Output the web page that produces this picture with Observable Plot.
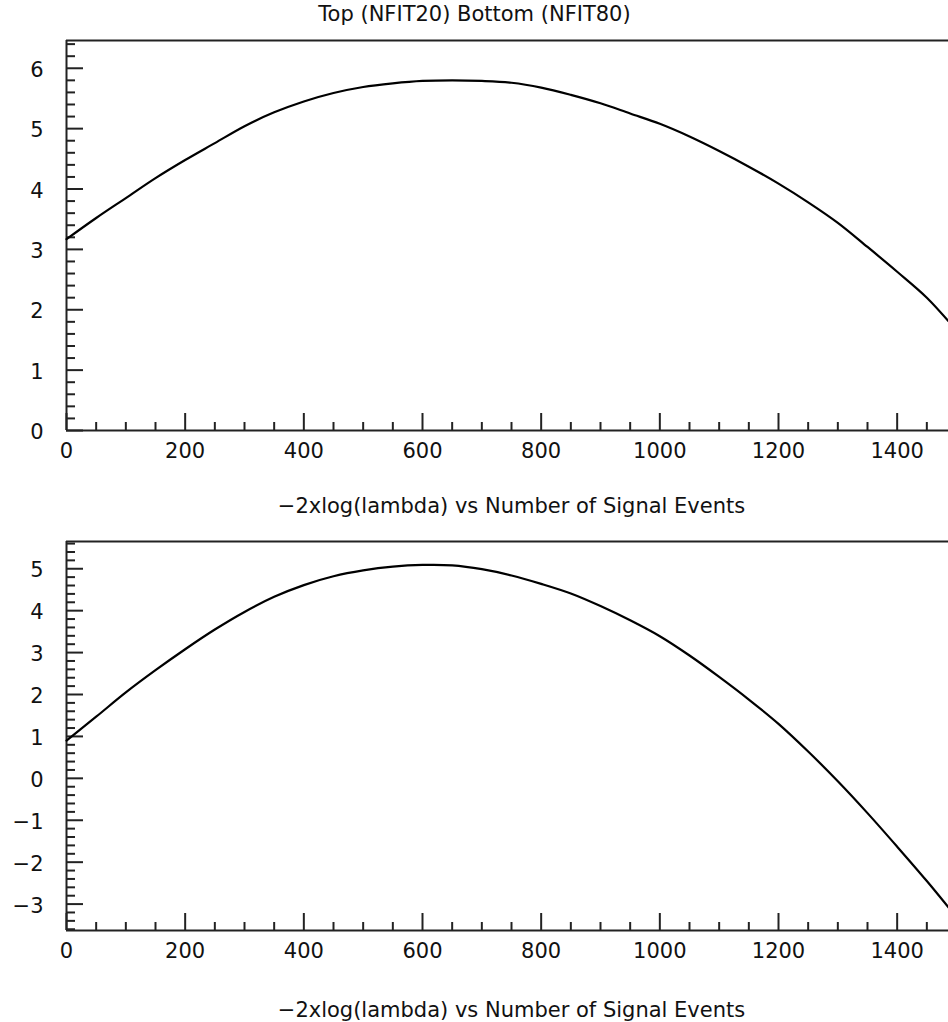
<!DOCTYPE html>
<html><head><meta charset="utf-8">
<script src="https://cdn.jsdelivr.net/npm/d3@7"></script>
<script src="https://cdn.jsdelivr.net/npm/@observablehq/plot@0.6"></script>
<style>
html,body{margin:0;padding:0;overflow:hidden;background:#fff;}
#chart{position:relative;width:956px;}
#chart svg{display:block;}
</style></head><body><div id="chart"></div>
<script>
const title = "Top (NFIT20) Bottom (NFIT80)";
const xTitle = "−2xlog(lambda) vs Number of Signal Events";

const signalEvents = [0,50,100,150,200,250,300,350,400,450,500,550,600,650,700,750,800,850,900,950,1000,1050,1100,1150,1200,1250,1300,1350,1400,1450,1490];
const topValues = [3.17,3.52,3.85,4.18,4.48,4.76,5.04,5.27,5.45,5.59,5.69,5.75,5.79,5.80,5.79,5.76,5.68,5.56,5.42,5.25,5.08,4.87,4.63,4.37,4.09,3.78,3.44,3.04,2.63,2.20,1.77];
const bottomValues = [0.90,1.47,2.05,2.58,3.08,3.55,3.97,4.33,4.61,4.82,4.96,5.05,5.09,5.08,4.99,4.84,4.64,4.41,4.11,3.77,3.39,2.93,2.42,1.88,1.30,0.64,-0.07,-0.83,-1.63,-2.45,-3.14];

const xDomain = [0, 1500];
const xMajorTicks = [0,200,400,600,800,1000,1200,1400];
const xMinorTicks = [50,100,150,250,300,350,450,500,550,650,700,750,850,900,950,1050,1100,1150,1250,1300,1350,1450];
const topYDomain = [0, 6.46];
const topYTicks = [0,1,2,3,4,5,6];
const bottomYDomain = [-3.63, 5.65];
const bottomYTicks = [-3,-2,-1,0,1,2,3,4,5];

const W = 956, ML = 66, MR = 0;
const innerW = W - ML - MR;
const axisColor = "#222";
const fmt = d => (d < 0 ? "−" : "") + String(Math.abs(d));

function panel({values, yDomain, yTicks, height, marginTop, marginBottom, titleDy, withTitle}) {
  const innerH = height - marginTop - marginBottom;
  const yMinor = d3.range(Math.ceil(yDomain[0] * 5), Math.floor(yDomain[1] * 5) + 1)
    .map(k => +(k / 5).toFixed(2)).filter(v => !yTicks.includes(v));
  const data = signalEvents.map((x, i) => ({x, y: values[i]}));
  const marks = [
    Plot.tickX(xMajorTicks, {x: d => d, insetTop: innerH - 17, stroke: axisColor, strokeWidth: 2}),
    Plot.tickX(xMinorTicks, {x: d => d, insetTop: innerH - 8, stroke: axisColor, strokeWidth: 2}),
    Plot.tickY(yTicks, {y: d => d, insetRight: innerW - 17, stroke: axisColor, strokeWidth: 2}),
    Plot.tickY(yMinor, {y: d => d, insetRight: innerW - 9, stroke: axisColor, strokeWidth: 2}),
    Plot.ruleX([xDomain[0]], {stroke: axisColor, strokeWidth: 2}),
    Plot.ruleY([yDomain[0], yDomain[1]], {stroke: axisColor, strokeWidth: 2}),
    Plot.axisX({ticks: xMajorTicks, tickFormat: fmt, tickSize: 0, tickPadding: 13, label: null, fill: "#111"}),
    Plot.axisY({ticks: yTicks, tickFormat: fmt, tickSize: 0, tickPadding: 23, label: null, dy: 2, fill: "#111"}),
    Plot.line(data, {x: "x", y: "y", stroke: "#000", strokeWidth: 2.2, curve: "catmull-rom"}),
    Plot.text([xTitle], {frameAnchor: "bottom", dy: titleDy, lineAnchor: "middle", fontSize: 21, fill: "#111", style: "letter-spacing:0.8px"})
  ];
  if (withTitle) {
    marks.push(Plot.text([title], {frameAnchor: "top", dy: -26, dx: -37, lineAnchor: "middle", fontSize: 21, fill: "#111"}));
  }
  return Plot.plot({
    width: W, height, marginLeft: ML, marginRight: MR, marginTop, marginBottom,
    style: {fontFamily: "DejaVu Sans", fontSize: "21px", color: "#000", background: "#fff", overflow: "visible"},
    x: {domain: xDomain},
    y: {domain: yDomain},
    marks
  });
}

const chart = document.getElementById("chart");
chart.append(panel({values: topValues, yDomain: topYDomain, yTicks: topYTicks, height: 510, marginTop: 40, marginBottom: 80, titleDy: 76, withTitle: true}));
chart.append(panel({values: bottomValues, yDomain: bottomYDomain, yTicks: bottomYTicks, height: 512, marginTop: 31, marginBottom: 92, titleDy: 80, withTitle: false}));
</script>
</body></html>
